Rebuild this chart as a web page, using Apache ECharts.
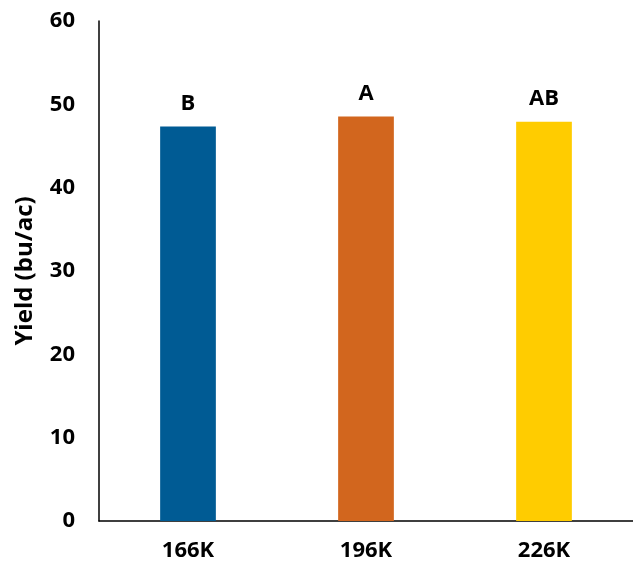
<!DOCTYPE html>
<html>
<head>
<meta charset="utf-8">
<script src="https://cdn.jsdelivr.net/npm/echarts@6/dist/echarts.min.js"></script>
<style>html,body{margin:0;padding:0;background:#fff;}#c{width:633px;height:564px;}</style>
</head>
<body>
<div id="c"></div>
<script>
const categories = ['166K', '196K', '226K'];
const yieldValues = [47.35, 48.55, 47.9];
const letters = ['B', 'A', 'AB'];
const barColors = ['#005B94', '#D2661E', '#FFCC00'];
const yTicks = { min: 0, max: 60, interval: 10 };

const chart = echarts.init(document.getElementById('c'));
chart.setOption({
  animation: false,
  grid: { left: 99, right: 0, top: 21, bottom: 43 },
  xAxis: {
    type: 'category',
    data: categories,
    axisLine: { lineStyle: { color: '#000', width: 1.5 } },
    axisTick: { show: false },
    axisLabel: { color: '#000', fontFamily: 'Open Sans', fontWeight: 'bold', fontSize: 22, margin: 19 }
  },
  yAxis: {
    type: 'value',
    min: yTicks.min, max: yTicks.max, interval: yTicks.interval,
    name: 'Yield (bu/ac)',
    nameLocation: 'middle',
    nameGap: 62,
    nameRotate: 90,
    nameTextStyle: { color: '#000', fontFamily: 'Open Sans', fontWeight: 'bold', fontSize: 24 },
    axisLine: { show: true, lineStyle: { color: '#000', width: 1.5 } },
    axisTick: { show: false },
    splitLine: { show: false },
    axisLabel: { color: '#000', fontFamily: 'Open Sans', fontWeight: 'bold', fontSize: 22, margin: 24 }
  },
  series: [{
    type: 'bar',
    barWidth: '31.3%',
    data: yieldValues.map((v, i) => ({ value: v, itemStyle: { color: barColors[i] } })),
    label: {
      show: true,
      position: 'top',
      distance: 12,
      formatter: p => letters[p.dataIndex],
      color: '#000', fontFamily: 'Open Sans', fontWeight: 'bold', fontSize: 22
    }
  }]
});
</script>
</body>
</html>
